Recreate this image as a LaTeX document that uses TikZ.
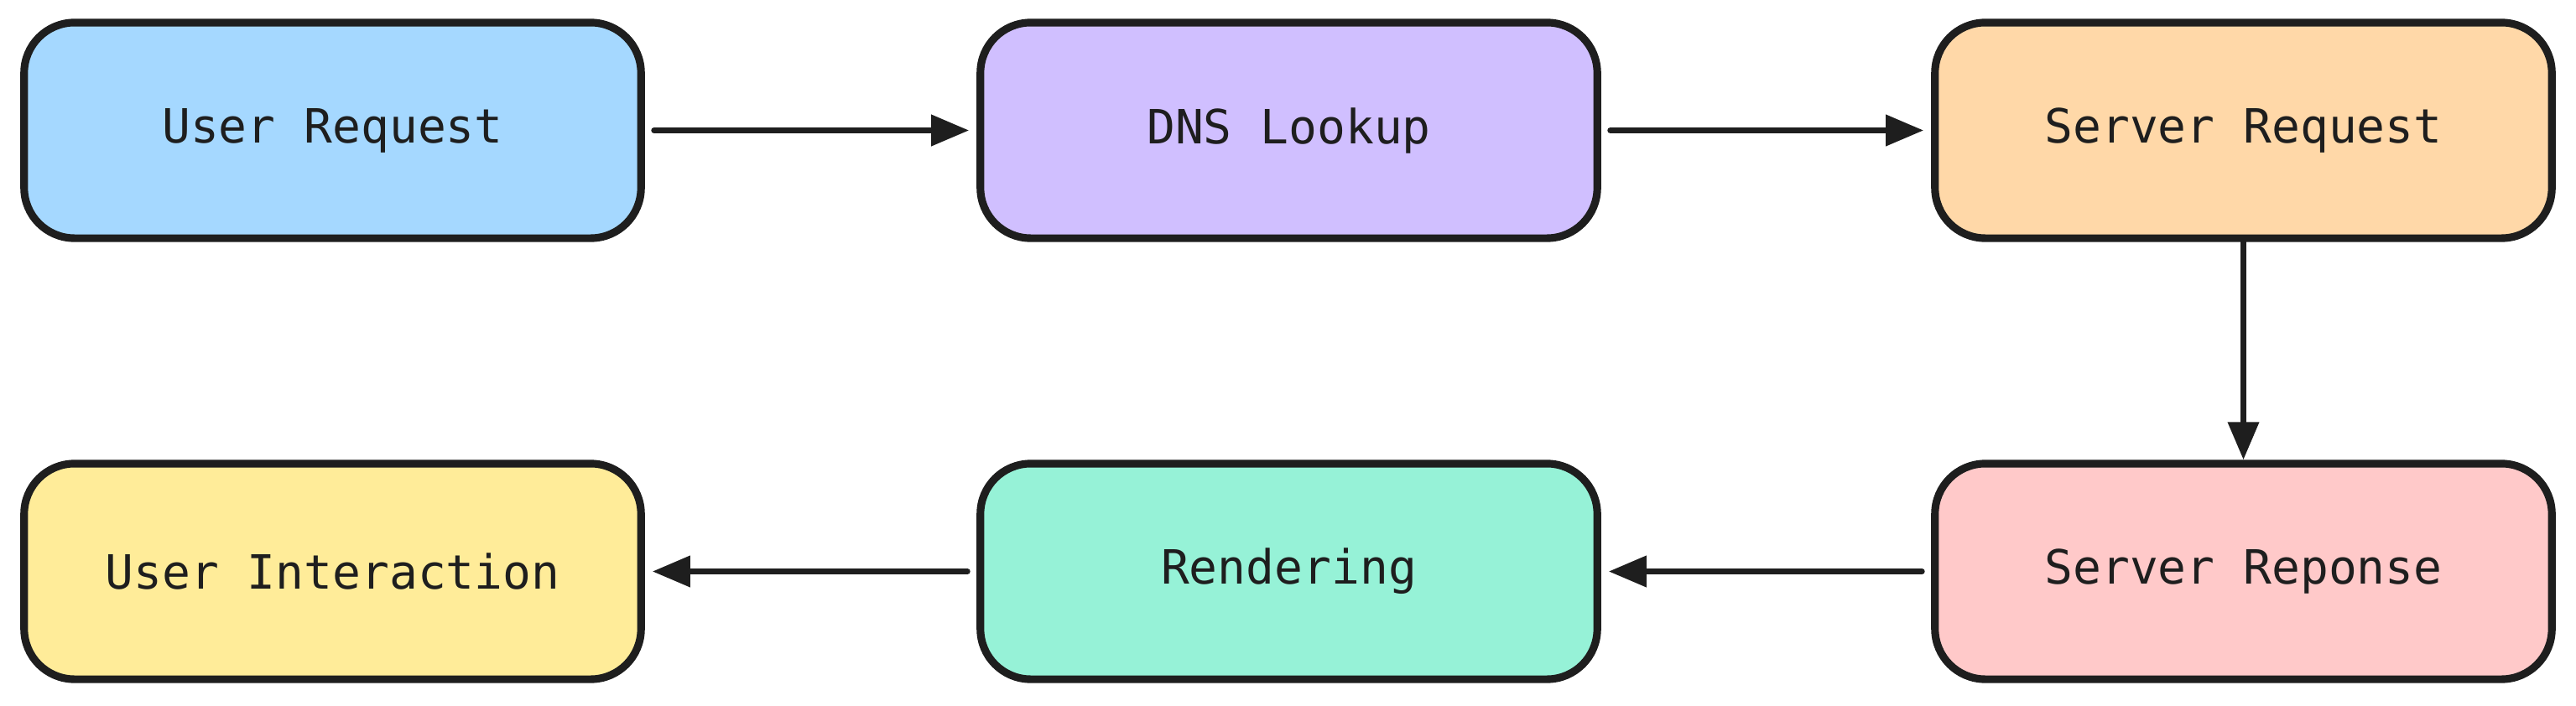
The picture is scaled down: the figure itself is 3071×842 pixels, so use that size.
\documentclass[tikz,border=0pt]{standalone}
\usepackage{fontspec}
\setmonofont{DejaVu Sans Mono}
\usetikzlibrary{arrows.meta}
\definecolor{ink}{HTML}{1E1E1E}
\definecolor{cblue}{HTML}{A5D8FF}
\definecolor{cpurple}{HTML}{D0BFFF}
\definecolor{corange}{HTML}{FFD8A8}
\definecolor{cpink}{HTML}{FFC9C9}
\definecolor{cgreen}{HTML}{96F2D7}
\definecolor{cyellow}{HTML}{FFEC99}
\tikzset{
  stepbox/.style={draw=ink, line width=2.6pt, rounded corners=0.6cm,
    minimum width=7.35cm, minimum height=2.57cm, inner sep=0pt,
    font=\ttfamily\fontsize{16}{18}\selectfont, text=ink},
  flow/.style={draw=ink, line width=2pt, line cap=round,
    -{Triangle[length=0.45cm,width=0.36cm]},
    shorten <=0.11cm, shorten >=0.09cm}
}
\begin{document}
\begin{tikzpicture}[x=0.01cm,y=-0.01cm]
\fill[white] (0,0) rectangle (3071,842);
\useasboundingbox (0,0) rectangle (3071,842);
\node[stepbox, fill=cblue]   (ureq) at (396.5,155.5) {User Request};
\node[stepbox, fill=cpurple] (dns)  at (1536.5,155.5) {DNS Lookup};
\node[stepbox, fill=corange] (sreq) at (2674.5,155.5) {Server Request};
\node[stepbox, fill=cyellow] (uint) at (396.5,681.5) {User Interaction};
\node[stepbox, fill=cgreen]  (rend) at (1536.5,681.5) {Rendering};
\node[stepbox, fill=cpink]   (sres) at (2674.5,681.5) {Server Reponse};
\draw[flow] (ureq) -- (dns);
\draw[flow] (dns) -- (sreq);
\draw[flow, shorten <=0cm, shorten >=0cm] (sreq) -- (sres);
\draw[flow] (sres) -- (rend);
\draw[flow] (rend) -- (uint);
\end{tikzpicture}
\end{document}
